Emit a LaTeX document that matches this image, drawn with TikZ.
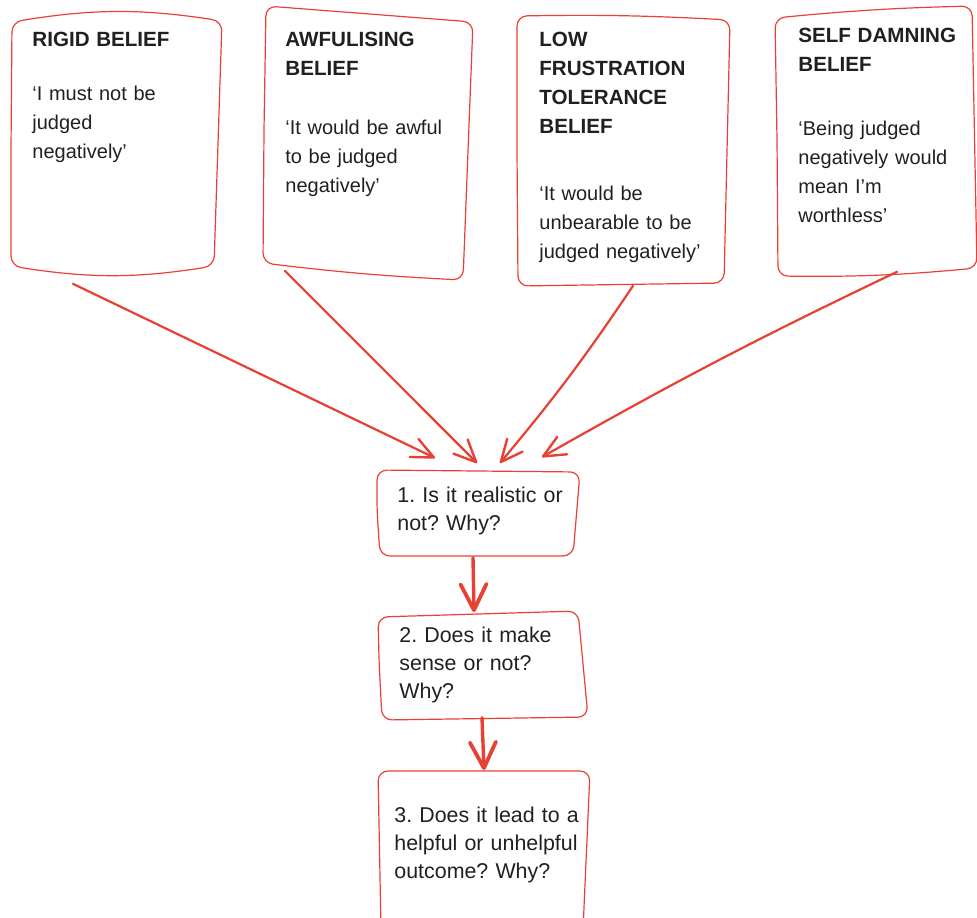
\documentclass[tikz,border=0pt]{standalone}
\usepackage{fontspec}
\setmainfont{Liberation Sans}
\usetikzlibrary{arrows.meta,calc}
\definecolor{penred}{RGB}{233,64,52}
\definecolor{ink}{RGB}{35,31,32}
\newcommand{\beliefhead}[1]{{\fontsize{10.3}{14.5}\selectfont\bfseries #1}}
\frenchspacing

\begin{document}
\begin{tikzpicture}[x=0.5pt,y=-0.5pt,
    belief/.style={anchor=north west,inner xsep=10.5pt,inner ysep=7.5pt,text height=8pt,
      align=left,text=ink,font=\fontsize{10}{14.5}\selectfont},
    question/.style={anchor=north west,inner xsep=10pt,inner ysep=7.5pt,text height=8pt,
      align=left,text=ink,font=\fontsize{10.7}{14}\selectfont},
    outline/.style={draw=penred,line width=0.6pt,line join=round,rounded corners=5pt},
    feed/.style={penred,line width=1.1pt,line cap=round,
      -{Straight Barb[length=11pt,width=10pt,line width=1.2pt,round]}},
    godown/.style={penred,line width=1.7pt,line cap=round,
      -{Straight Barb[length=13pt,width=13pt,line width=1.9pt,round]}}]
  \useasboundingbox (0,0) rectangle (977,917);

  % the four beliefs
  \node[belief,text width=82.5pt,text depth=103.5pt] (rigid) at (11,15)
    {\beliefhead{RIGID BELIEF}\\[12.5pt]‘I must not be\\judged\\negatively’};
  \node[belief,text width=81pt,text depth=105.5pt] (awful) at (264,15)
    {\beliefhead{AWFULISING}\\\beliefhead{BELIEF}\\[15pt]‘It would be awful\\to be judged\\negatively’};
  \node[belief,text width=83.5pt,text depth=111pt] (lft) at (518,15)
    {\beliefhead{LOW}\\\beliefhead{FRUSTRATION}\\\beliefhead{TOLERANCE}\\\beliefhead{BELIEF}\\[19pt]‘It would be\\unbearable to be\\judged negatively’};
  \node[belief,text width=85pt,text depth=107.5pt] (damn) at (777,11)
    {\beliefhead{SELF DAMNING}\\\beliefhead{BELIEF}\\[17.5pt]‘Being judged\\negatively would\\mean I’m\\worthless’};

  \draw[outline] (11,150) -- (12,22) to[bend left=9] (222,21) -- (214,266)
    to[bend left=9] (11,266) -- cycle;
  \draw[outline] (264,130) -- (266,6) -- (473,22) -- (463,280) to[bend left=2] (263,263) -- cycle;
  \draw[outline] (517,150) -- (517,16) to[bend left=2] (730,20) -- (724,283) -- (518,286) -- cycle;
  \draw[outline] (777,140) -- (775,18) to[bend left=2] (972,6) -- (977,268)
    to[bend left=3] (778,276) -- cycle;

  % the three questions
  \node[question,text width=86pt,text depth=19.5pt] (real) at (377,471)
    {1. Is it realistic or\\not? Why?};
  \node[question,text width=86pt,text depth=31pt] (sense) at (379,611)
    {2. Does it make\\sense or not?\\Why?};
  \node[question,text width=95pt,text height=18pt,text depth=44pt] (help) at (374,771)
    {3. Does it lead to a\\helpful or unhelpful\\outcome? Why?};

  \draw[outline] (377,510) -- (377,470) -- (580,472) -- (573,556) -- (380,556) -- cycle;
  \draw[outline] (379,660) -- (378,617) -- (578,611) -- (588,717) -- (382,720) -- cycle;
  \draw[outline] (381,930) -- (378,771) -- (590,771) -- (583,930);

  % beliefs feed into the first question
  \draw[feed] ($(rigid.south west)+(62,15)$) -- ($(real.north west)+(58,-13)$);
  \draw[feed] ($(awful.south west)+(21,-2)$) -- ($(real.north west)+(100,-8)$);
  \draw[feed] ($(lft.south west)+(115,2)$) to[bend left=3] ($(real.north west)+(123,-8)$);
  \draw[feed] ($(damn.south west)+(120,-1)$) to[bend right=2] ($(real.north west)+(165,-14)$);

  % one question leads to the next
  \draw[godown] ($(real.south west)+(96,1)$) -- ($(sense.north west)+(95,1)$);
  \draw[godown] ($(sense.south west)+(103,-2)$) -- ($(help.north west)+(110,-1)$);
\end{tikzpicture}
\end{document}
